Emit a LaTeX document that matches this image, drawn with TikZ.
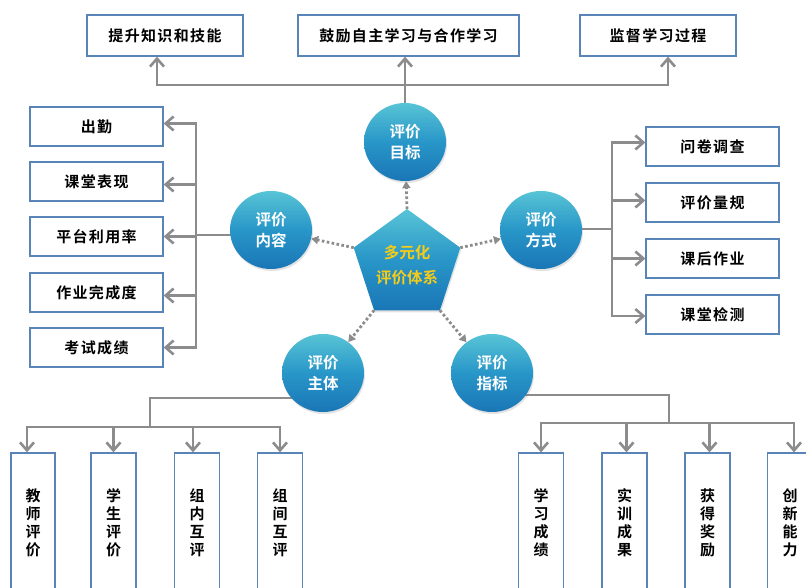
\documentclass[tikz,border=0pt]{standalone}
\usepackage{fontspec}
\newfontfamily\cjk{Noto Sans CJK SC}[BoldFont={Noto Sans CJK SC Bold}]
\newfontfamily\cjkls{Noto Sans CJK SC}[BoldFont={Noto Sans CJK SC Bold},LetterSpace=9]
\usetikzlibrary{arrows.meta,shapes.geometric,shadows,backgrounds}
\definecolor{boxblue}{RGB}{88,132,184}
\definecolor{linegray}{RGB}{140,140,140}
\definecolor{ballhi}{RGB}{88,196,214}
\definecolor{ballmid}{RGB}{40,150,200}
\definecolor{balllo}{RGB}{26,118,182}
\definecolor{coretext}{RGB}{246,204,24}
\begin{document}
\begin{tikzpicture}[x=1pt,y=-1pt,
  lbox/.style={draw=boxblue,line width=1.3pt,fill=white,inner sep=0pt,
    font=\cjkls\bfseries\fontsize{15}{18}\selectfont},
  hbox/.style={lbox,minimum height=39pt},
  vbox/.style={draw=boxblue,line width=1.3pt,fill=white,inner sep=0pt,
    minimum width=45pt,minimum height=140pt,align=center,
    font=\cjk\bfseries\fontsize{15}{18}\selectfont},
  ball/.style={ellipse,minimum width=82pt,minimum height=78pt,inner sep=0pt,
    top color=ballhi,bottom color=balllo,middle color=ballmid,align=center,text=white,
    font=\cjk\bfseries\fontsize{15.5}{21}\selectfont,
    drop shadow={opacity=0.22,shadow xshift=1pt,shadow yshift=-2pt}},
  conn/.style={draw=linegray,line width=2.6pt},
  arr/.style={conn,-{Straight Barb[length=8pt,width=14pt]}},
  dotarr/.style={draw=linegray,line width=2.8pt,dash pattern=on 2.6pt off 2.4pt,
    -{Triangle[length=7pt,width=8pt]}}]
\useasboundingbox (0,0) rectangle (806,588);
\clip (0,0) rectangle (806,588);

% top boxes
\node[hbox,minimum width=156pt,minimum height=41pt] (t1) at (165,35.5) {提升知识和技能};
\node[hbox,minimum width=221pt,minimum height=41pt] (t2) at (408.5,35.5) {鼓励自主学习与合作学习};
\node[hbox,minimum width=156pt,minimum height=41pt] (t3) at (658,35.5) {监督学习过程};

% left boxes
\node[hbox,minimum width=133pt] (l1) at (96.5,126.5) {出勤};
\node[hbox,minimum width=133pt] (l2) at (96.5,181.5) {课堂表现};
\node[hbox,minimum width=133pt] (l3) at (96.5,236.5) {平台利用率};
\node[hbox,minimum width=133pt] (l4) at (96.5,292.5) {作业完成度};
\node[hbox,minimum width=133pt] (l5) at (96.5,347.5) {考试成绩};

% right boxes
\node[hbox,minimum width=133pt] (r1) at (712.5,146.5) {问卷调查};
\node[hbox,minimum width=133pt] (r2) at (712.5,202.5) {评价量规};
\node[hbox,minimum width=133pt] (r3) at (712.5,258.5) {课后作业};
\node[hbox,minimum width=133pt] (r4) at (712.5,314.5) {课堂检测};

% bottom boxes
\node[vbox,minimum width=44pt] (b1) at (33,523) {教\\师\\评\\价};
\node[vbox] (b2) at (113.5,523) {学\\生\\评\\价};
\node[vbox] (b3) at (197,523) {组\\内\\互\\评};
\node[vbox] (b4) at (280,523) {组\\间\\互\\评};
\node[vbox] (c1) at (541,523) {学\\习\\成\\绩};
\node[vbox] (c2) at (624.5,523) {实\\训\\成\\果};
\node[vbox] (c3) at (707.5,523) {获\\得\\奖\\励};
\node[vbox] (c4) at (790,523) {创\\新\\能\\力};

% circles
\node[ball] (mubiao) at (405,142) {评价\\目标};
\node[ball] (neirong) at (271,230) {评价\\内容};
\node[ball] (fangshi) at (541,230) {评价\\方式};
\node[ball] (zhuti) at (323,373) {评价\\主体};
\node[ball] (zhibiao) at (492,373) {评价\\指标};

% pentagon
\coordinate (pT) at (407,209);
\coordinate (pR) at (460.3,247.7);
\coordinate (pBR) at (439.9,310.3);
\coordinate (pBL) at (374.1,310.3);
\coordinate (pL) at (353.7,247.7);
\shade[top color=ballhi,bottom color=balllo,middle color=ballmid,
  drop shadow={opacity=0.22,shadow xshift=1pt,shadow yshift=-2pt}]
  (pT) -- (pR) -- (pBR) -- (pBL) -- (pL) -- cycle;
\node[text=coretext,align=center,font=\cjk\bfseries\fontsize{15.5}{25}\selectfont] (core) at (407,265) {多元化\\评价体系};

% dotted arrows
\draw[dotarr] (pT) -- (mubiao);
\draw[dotarr] (pL) -- (neirong);
\draw[dotarr] (pR) -- (fangshi);
\draw[dotarr] (pBL) -- (zhuti);
\draw[dotarr] (pBR) -- (zhibiao);

\begin{pgfonlayer}{background}
  \fill[white] (0,0) rectangle (806,588);
  % top
  \coordinate (tb) at (405,85);
  \draw[conn] (mubiao) -- (tb);
  \draw[arr] (tb) -| ([xshift=-8pt]t1.south);
  \draw[arr] (tb) -- (tb |- t2.south);
  \draw[arr] (tb) -| ([xshift=10pt]t3.south);
  % left
  \coordinate (lb) at (196,235);
  \draw[conn] (neirong.center |- lb) -- (lb);
  \draw[arr] (lb) |- ([yshift=3pt]l1.east);
  \draw[arr] (lb) |- ([yshift=-3pt]l2.east);
  \draw[arr] (lb) |- (l3.east);
  \draw[arr] (lb) |- ([yshift=-3pt]l4.east);
  \draw[arr] (lb) |- (l5.east);
  % right
  \coordinate (rb) at (612,229);
  \draw[conn] (fangshi.center |- rb) -- (rb);
  \draw[arr] (rb) |- ([yshift=4pt]r1.west);
  \draw[arr] (rb) |- ([yshift=2pt]r2.west);
  \draw[arr] (rb) |- (r3.west);
  \draw[arr] (rb) |- ([yshift=-1.5pt]r4.west);
  % bottom left
  \coordinate (bl1) at (150,398);
  \coordinate (bl2) at (150,427);
  \draw[conn] (zhuti.center |- bl1) -- (bl1) -- (bl2);
  \draw[arr] (bl2) -| ([xshift=-6pt]b1.north);
  \draw[arr] (bl2) -| (b2.north);
  \draw[arr] (bl2) -| ([xshift=-4pt]b3.north);
  \draw[arr] (bl2) -| (b4.north);
  % bottom right
  \coordinate (br1) at (669,395);
  \coordinate (br2) at (669,423);
  \draw[conn] (zhibiao.center |- br1) -- (br1) -- (br2);
  \draw[arr] (br2) -| (c1.north);
  \draw[arr] (br2) -| ([xshift=2pt]c2.north);
  \draw[arr] (br2) -| ([xshift=2pt]c3.north);
  \draw[arr] (br2) -| ([xshift=4pt]c4.north);
\end{pgfonlayer}
\end{tikzpicture}
\end{document}
